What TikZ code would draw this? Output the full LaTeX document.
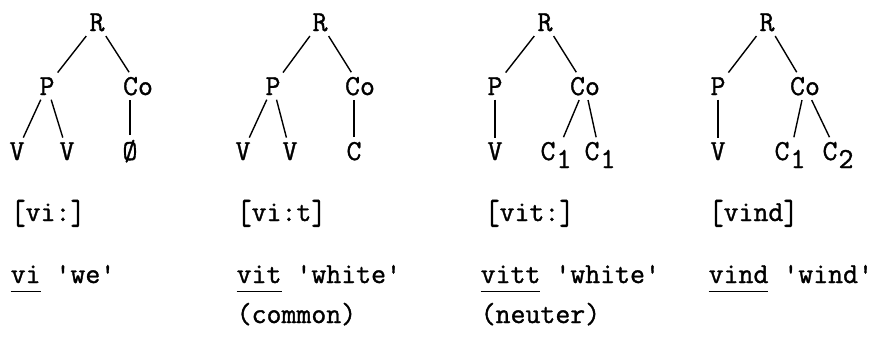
\documentclass[tikz,border=0pt]{standalone}
\usepackage{fontspec}
\usepackage{graphicx}
\usepackage{tikz}
\newfontfamily\tw[FakeBold=1.2]{Latin Modern Mono}
\newcommand{\lowidx}[1]{\hspace{1pt}\raisebox{-8pt}{#1}}
\newcommand{\tallbr}[1]{\raisebox{-3pt}{\scalebox{1}[1.2]{#1}}}
\newcommand{\ul}[1]{\underline{\smash{#1}\vphantom{g}}}

\begin{document}
\begin{tikzpicture}[x=1pt, y=-1pt, lbl/.style={font=\tw\fontsize{29}{33}\selectfont, inner sep=4pt, anchor=base}, txt/.style={font=\tw\fontsize{29}{33}\selectfont, inner sep=0pt, anchor=base west}, every path/.style={line width=1.4pt}]
       \useasboundingbox (0,0) rectangle (886,341);
       % vi
       \node[lbl] (r1) at (97,31) {R};
       \node[lbl] (p1) at (47,95) {P};
       \node[lbl] (co1) at (138,95) {Co};
       \node[lbl] (v1a) at (17,160) {V};
       \node[lbl] (v1b) at (67,160) {V};
       \node[lbl] (o1) at (130,160) {Ø};
       % vit
       \node[lbl] (r2) at (320,31) {R};
       \node[lbl] (p2) at (273,95) {P};
       \node[lbl] (co2) at (360,95) {Co};
       \node[lbl] (v2a) at (243,160) {V};
       \node[lbl] (v2b) at (290,160) {V};
       \node[lbl] (c2) at (354,160) {C};
       % vitt
       \node[lbl] (r3) at (545,31) {R};
       \node[lbl] (p3) at (495,95) {P};
       \node[lbl] (co3) at (585,95) {Co};
       \node[lbl] (v3) at (495,160) {V};
       \node[lbl] (c3a) at (556,160) {C\lowidx{1}};
       \node[lbl] (c3b) at (600,160) {C\lowidx{1}};
       % vind
       \node[lbl] (r4) at (767,31) {R};
       \node[lbl] (p4) at (718,95) {P};
       \node[lbl] (co4) at (805,95) {Co};
       \node[lbl] (v4) at (718,160) {V};
       \node[lbl] (c4a) at (790,160) {C\lowidx{1}};
       \node[lbl] (c4b) at (838,160) {C\lowidx{2}};

       \foreach \t in {1,2,3,4}{ \draw (r\t) -- (p\t); \draw (r\t) -- (co\t); }
       \foreach \v in {v1a,v1b}{ \draw (p1) -- (\v); }
       \foreach \v in {v2a,v2b}{ \draw (p2) -- (\v); }
       \draw (o1) -- (o1 |- co1.south);
       \draw (c2) -- (c2 |- co2.south);
       \draw (p3) -- (v3);
       \draw (p4) -- (v4);
       \foreach \c in {c3a,c3b}{ \draw (co3) -- (\c); }
       \foreach \c in {c4a,c4b}{ \draw (co4) -- (\c); }

       \node[txt] (b1) at (10,221) {\tallbr{[}vi:\tallbr{]}};
       \node[txt] (b2) at (236,221) {\tallbr{[}vi:t\tallbr{]}};
       \node[txt] (b3) at (484,221) {\tallbr{[}vit:\tallbr{]}};
       \node[txt] (b4) at (708,221) {\tallbr{[}vind\tallbr{]}};

       \node[txt] (g1) at (10,283) {\ul{vi} \textquotesingle we\textquotesingle};
       \node[txt] (g2) at (236,283) {\ul{vit} \textquotesingle white\textquotesingle};
       \node[txt] (g3) at (480,283) {\ul{vitt} \textquotesingle white\textquotesingle};
       \node[txt] (g4) at (708,283) {\ul{vind} \textquotesingle wind\textquotesingle};
       \node[txt] (n2) at (236,323) {(common)};
       \node[txt] (n3) at (480,323) {(neuter)};
     \end{tikzpicture}
\end{document}
